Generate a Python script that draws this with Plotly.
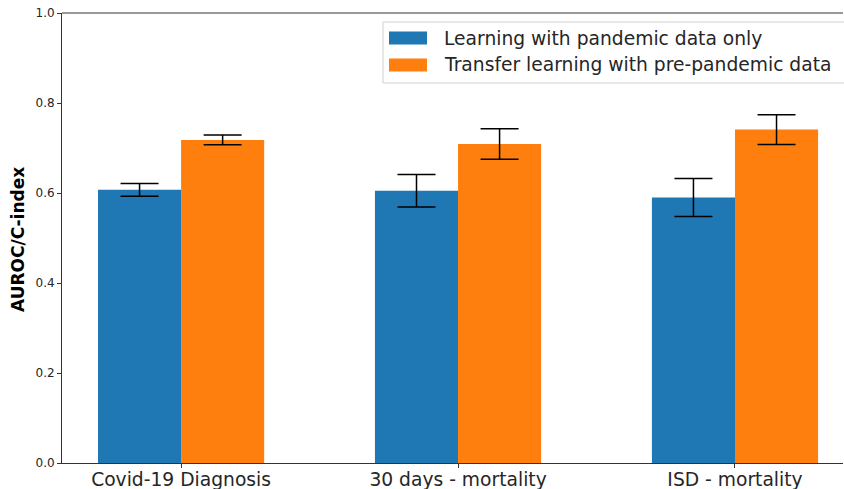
import plotly.graph_objects as go

categories = ["Covid-19 Diagnosis", "30 days - mortality", "ISD - mortality"]
pandemic_only = [0.607, 0.605, 0.590]
pandemic_only_err = [0.014, 0.036, 0.042]
transfer = [0.718, 0.709, 0.741]
transfer_err = [0.011, 0.034, 0.033]
series_names = ["Learning with pandemic data only", "Transfer learning with pre-pandemic data"]
series_colors = ["#1f77b4", "#ff7f0e"]
y_ticks = [0.0, 0.2, 0.4, 0.6, 0.8, 1.0]

FONT = "DejaVu Sans"
W, H = 844, 489
ML, MR, MT, MB = 62, 1, 13, 26
PW, PH = W - ML - MR, H - MT - MB


def px(x):
    return (x - ML) / PW


def py(y):
    return (H - MB - y) / PH


x_idx = list(range(len(categories)))

fig = go.Figure()
fig.add_trace(go.Bar(
    x=x_idx, y=pandemic_only, name=series_names[0], marker_color=series_colors[0],
    marker_line_width=0,
    error_y=dict(type="data", array=pandemic_only_err, color="black", thickness=1.5, width=19),
))
fig.add_trace(go.Bar(
    x=x_idx, y=transfer, name=series_names[1], marker_color=series_colors[1],
    marker_line_width=0,
    error_y=dict(type="data", array=transfer_err, color="black", thickness=1.5, width=19),
))

shapes = [
    dict(type="line", xref="paper", yref="paper", x0=0, x1=1, y0=1, y1=1,
         line=dict(color="#333333", width=1)),
    # legend frame
    dict(type="rect", xref="paper", yref="paper", x0=px(383), x1=px(860), y0=py(83), y1=py(22),
         fillcolor="rgba(255,255,255,0.8)", line=dict(color="#d0d0d0", width=1), layer="above"),
]
annotations = [
    dict(text="<b>AUROC/C-index</b>", xref="paper", yref="paper", x=px(18), y=py(240),
         textangle=-90, showarrow=False, xanchor="center", yanchor="middle",
         font=dict(family=FONT, size=17, color="black")),
]
legend_rows = [38, 65]
for name, color, yc in zip(series_names, series_colors, legend_rows):
    shapes.append(dict(type="rect", xref="paper", yref="paper",
                       x0=px(389), x1=px(427), y0=py(yc + 6.5), y1=py(yc - 6.5),
                       fillcolor=color, line=dict(width=0), layer="above"))
    annotations.append(dict(text=name, xref="paper", yref="paper", x=px(442), y=py(yc),
                            xanchor="left", yanchor="middle", showarrow=False,
                            font=dict(family=FONT, size=18.7, color="#262626")))

fig.update_layout(
    width=W, height=H,
    margin=dict(l=ML, r=MR, t=MT, b=MB, autoexpand=False),
    paper_bgcolor="white", plot_bgcolor="white",
    barmode="group", bargap=0.4, bargroupgap=0,
    font=dict(family=FONT, color="#262626"),
    showlegend=False,
    xaxis=dict(
        range=[-0.43, 2.39], tickmode="array", tickvals=x_idx, ticktext=categories,
        tickfont=dict(size=18.7, color="#262626"), ticks="outside", ticklen=4,
        ticklabelstandoff=-4,
        tickcolor="#333333", showline=True, linecolor="#333333", linewidth=1,
        showgrid=False, zeroline=False, automargin=False,
    ),
    yaxis=dict(
        range=[0, 1.0], tickmode="array", tickvals=y_ticks,
        ticktext=[f"{v:.1f}" for v in y_ticks],
        tickfont=dict(size=12, color="#262626"), ticks="outside", ticklen=4,
        tickcolor="#333333", showline=True, linecolor="#333333", linewidth=1,
        showgrid=False, zeroline=False, automargin=False,
    ),
    shapes=shapes,
    annotations=annotations,
)

fig.write_html(
    "out.html",
    config={"displayModeBar": False},
    post_script="document.body.style.margin='0';document.body.style.overflow='hidden';",
)
